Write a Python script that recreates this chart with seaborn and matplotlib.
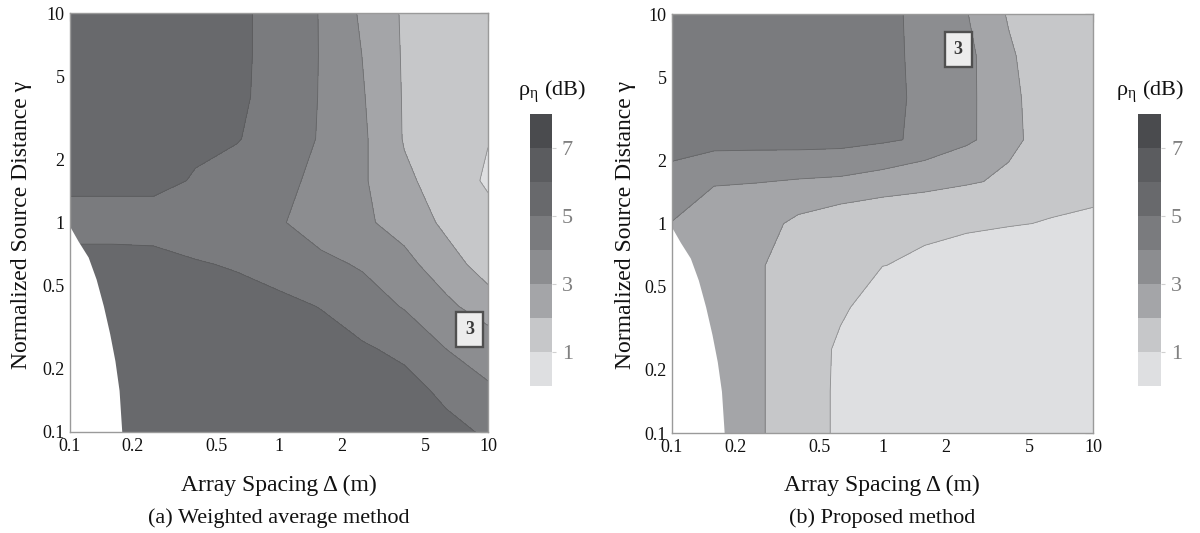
import matplotlib
matplotlib.use("Agg")
import matplotlib.pyplot as plt
import seaborn as sns
from matplotlib.ticker import FixedLocator, FixedFormatter, LogLocator, NullFormatter

# ---------------- data ----------------
# grid nodes (log-spaced) for array spacing Delta (m) and normalized distance gamma
delta_nodes = [0.1, 0.1585, 0.2512, 0.3981, 0.631, 1.0, 1.585, 2.512, 3.981, 6.31, 10.0]
gamma_nodes = [10.0, 6.31, 3.981, 2.512, 1.585, 1.0, 0.631, 0.3981, 0.2512, 0.1585, 0.1]  # rows top -> bottom

# rho_eta (dB), weighted average method; rows follow gamma_nodes, columns follow delta_nodes
rho_weighted = [
    [5.6, 5.6, 5.5, 5.4, 5.15, 4.67, 3.94, 2.81, 1.85, 1.5, 1.4],
    [5.6, 5.6, 5.5, 5.4, 5.15, 4.67, 3.95, 2.98, 1.87, 1.5, 1.4],
    [5.6, 5.6, 5.5, 5.35, 5.15, 4.6, 3.94, 3.06, 1.90, 1.55, 1.45],
    [5.55, 5.55, 5.45, 5.3, 5.05, 4.46, 3.92, 3.13, 1.92, 1.5, 1.05],
    [5.3, 5.3, 5.3, 4.9, 4.7, 4.4, 3.56, 3.10, 2.17, 1.5, 0.85],
    [4.6, 4.6, 4.6, 4.55, 4.45, 4.1, 3.41, 3.15, 2.58, 1.76, 1.3],
    [5.3, 5.3, 5.25, 5.05, 4.93, 4.75, 4.25, 3.865, 3.26, 2.385, 1.51],
    [5.5, 5.5, 5.45, 5.35, 5.25, 5.12, 4.98, 4.5, 3.91, 3.2, 2.42],
    [5.6, 5.6, 5.55, 5.5, 5.4, 5.3, 5.2, 5.08, 4.79, 3.98, 3.55],
    [5.65, 5.65, 5.6, 5.55, 5.5, 5.45, 5.4, 5.33, 5.25, 4.8, 4.1],
    [5.7, 5.7, 5.65, 5.6, 5.55, 5.5, 5.45, 5.4, 5.32, 5.2, 4.89],
]

# rho_eta (dB), proposed method
rho_proposed = [
    [4.5, 4.5, 4.5, 4.45, 4.35, 4.2, 3.74, 3.035, 1.885, 1.6, 1.5],
    [4.5, 4.5, 4.5, 4.45, 4.35, 4.2, 3.775, 3.2, 2.15, 1.12, 1.1],
    [4.5, 4.5, 4.5, 4.5, 4.45, 4.2, 3.815, 3.19, 2.24, 1.30, 1.2],
    [4.4, 4.4, 4.4, 4.43, 4.385, 4.15, 3.8, 3.18, 2.27, 1.37, 1.3],
    [3.7, 3.12, 3.03, 2.925, 2.846, 2.63, 2.35, 2.1, 1.81, 1.4, 1.3],
    [2.97, 2.2, 2.3, 1.8, 1.42, 1.15, 1.16, 1.1, 1.05, 0.95, 0.85],
    [2.6, 2.55, 2.15, 1.3, 1.3, 1.01, 0.884, 0.736, 0.5, 0.5, 0.5],
    [2.6, 2.55, 2.15, 1.3, 1.1, 0.6, 0.55, 0.5, 0.5, 0.5, 0.5],
    [2.6, 2.55, 2.15, 1.3, 0.9, 0.6, 0.55, 0.5, 0.5, 0.5, 0.5],
    [2.6, 2.55, 2.15, 1.3, 0.88, 0.6, 0.55, 0.5, 0.5, 0.5, 0.5],
    [2.6, 2.55, 2.15, 1.3, 0.88, 0.6, 0.55, 0.5, 0.5, 0.5, 0.5],
]

# edge of the valid region (lower-left corner is undefined)
edge_delta = [0.1, 0.1096, 0.1222, 0.1334, 0.1445, 0.1549, 0.1641, 0.1718, 0.177]
edge_gamma = [0.955, 0.813, 0.684, 0.537, 0.40, 0.295, 0.219, 0.158, 0.1]

levels = [0, 1, 2, 3, 4, 5, 6, 7, 8]
cbar_ticks = [1, 3, 5, 7]
label_level = 3
axis_ticks = [0.1, 0.2, 0.5, 1, 2, 5, 10]
axis_tick_labels = ["0.1", "0.2", "0.5", "1", "2", "5", "10"]
captions = ["(a) Weighted average method", "(b) Proposed method"]

# ---------------- style ----------------
sns.set_theme(style="white")
plt.rcParams["font.family"] = ["Liberation Serif", "DejaVu Serif"]
plt.rcParams["mathtext.fontset"] = "stix"

band_colors = sns.color_palette(["#dedfe1", "#c6c7c9", "#a4a5a8", "#8c8d90",
                                 "#7a7b7e", "#68696c", "#5b5c5f", "#4a4b4e"])

fig = plt.figure(figsize=(12, 5.33), dpi=100)

panels = [
    dict(z=rho_weighted, ax=[0.0583, 0.1895, 0.3483, 0.786], cax=[0.4417, 0.2758, 0.0183, 0.5103],
         title_x=0.46, xlabel_x=0.2325, ylabel_x=0.018, label_pos=(8.2, 0.307)),
    dict(z=rho_proposed, ax=[0.56, 0.1876, 0.3508, 0.786], cax=[0.9483, 0.2758, 0.0195, 0.5103],
         title_x=0.958, xlabel_x=0.735, ylabel_x=0.521, label_pos=(2.29, 6.8)),
]

for p, cap in zip(panels, captions):
    ax = fig.add_axes(p["ax"])
    cs = ax.contourf(delta_nodes, gamma_nodes[::-1], p["z"][::-1], levels=levels,
                     colors=band_colors, zorder=1)
    ax.contour(delta_nodes, gamma_nodes[::-1], p["z"][::-1], levels=levels,
               colors="#4a4a4a", linewidths=0.6, alpha=0.45, zorder=2)
    ax.fill_betweenx(edge_gamma, 0.1, edge_delta, color="white", lw=0, zorder=3)

    ax.set_xscale("log")
    ax.set_yscale("log")
    ax.set_xlim(0.1, 10)
    ax.set_ylim(0.1, 10)
    for axis in (ax.xaxis, ax.yaxis):
        axis.set_major_locator(FixedLocator(axis_ticks))
        axis.set_major_formatter(FixedFormatter(axis_tick_labels))
        axis.set_minor_locator(LogLocator(base=10, subs=[2, 3, 4, 5, 6, 7, 8, 9]))
        axis.set_minor_formatter(NullFormatter())
    ax.tick_params(which="both", direction="in", top=True, right=True,
                   color="#6e6e6e", labelcolor="#111111", labelsize=13)
    ax.tick_params(which="major", length=6, width=0.8)
    ax.tick_params(which="minor", length=4, width=0.8)
    ax.tick_params(axis="x", which="major", pad=4)
    ax.tick_params(axis="y", which="major", pad=4)
    for s in ax.spines.values():
        s.set_color("#9a9a9a")
        s.set_linewidth(1.0)
        s.set_zorder(4)

    ax.text(p["label_pos"][0], p["label_pos"][1], str(label_level), ha="center", va="center",
            fontsize=13, fontweight="bold", color="#3a3a3a", zorder=6,
            bbox=dict(boxstyle="square,pad=0.5", fc="#ededed", ec="#505050", lw=1.7))

    cax = fig.add_axes(p["cax"])
    cb = fig.colorbar(cs, cax=cax, ticks=cbar_ticks)
    cb.outline.set_visible(False)
    cb.ax.tick_params(length=3, width=0.8, color="#d0d0d0", labelcolor="#808080",
                      labelsize=16, pad=4)
    cb.ax.set_yticklabels([str(t) for t in cbar_ticks])

    fig.text(p["title_x"], 0.827, r"ρ$_\mathregular{η}$ (dB)", ha="center", va="center",
             fontsize=16, color="#111111")
    fig.text(p["xlabel_x"], 0.090, "Array Spacing Δ (m)", ha="center", va="center",
             fontsize=17, color="#111111")
    fig.text(p["xlabel_x"], 0.027, cap, ha="center", va="center", fontsize=16, color="#111111")
    fig.text(p["ylabel_x"], 0.578, "Normalized Source Distance γ", ha="center", va="center",
             rotation=90, fontsize=17, color="#111111")

fig.savefig("out.png", dpi=100, facecolor="white")
